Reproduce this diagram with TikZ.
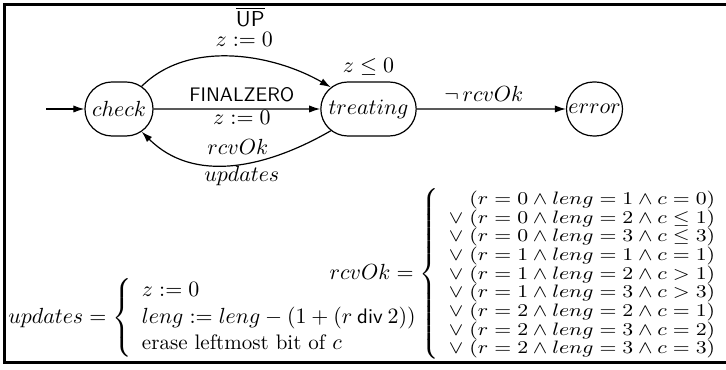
\documentclass[tikz,border=0pt]{standalone}
\usepackage{amsmath}
\usetikzlibrary{arrows.meta,shapes.misc}
\begin{document}
\begin{tikzpicture}[x=0.5pt,y=0.5pt,
  font=\fontsize{10.8}{13}\selectfont,
  state/.style={draw,rounded rectangle,line width=0.6pt,minimum width=34pt,minimum height=27pt,inner xsep=3pt,inner ysep=0pt},
  edge/.style={draw,line width=0.6pt,-{Latex[length=5.5pt,width=3.6pt]}},
  sflab/.style={font=\fontsize{9.8}{11}\selectfont\sffamily},
  lab/.style={anchor=base,inner sep=0pt},
  frame/.style={line width=1.4pt}]
\useasboundingbox (0,0) rectangle (726,369);
\draw[frame] (727,364.8) -- (4.5,364.8) -- (4.5,6.5) -- (727,6.5);
\node[state] (check) at (119,260) {$check$};
\node[state] (treating) at (368.5,260) {$treating$};
\node[state] (error) at (594.5,260) {$error$};
\coordinate (init) at (46,260);
\draw[edge] (init) -- (check);
\draw[edge] (check) to[out=45,in=150,looseness=0.9]
  node[lab,pos=0.5,yshift=5pt,xshift=6pt] (lz1) {$z := 0$}
  node[lab,pos=0.5,yshift=15pt,xshift=9pt] (lup) {$\overline{\text{\sffamily UP}}$} (treating);
\draw[edge] (check) -- node[lab,pos=0.53,sflab,yshift=3.5pt] (lfz) {FINALZERO}
  node[lab,pos=0.53,yshift=-8pt] (lz) {$z := 0$} (treating);
\draw[edge] (treating) to[out=-150,in=-45,looseness=1.0]
  node[lab,pos=0.5,yshift=5pt,xshift=3pt] (lrcv) {$rcvOk$}
  node[lab,pos=0.5,yshift=-8.5pt,xshift=5pt] (lupd) {$updates$} (check);
\draw[edge] (treating) -- node[lab,pos=0.45,yshift=3.5pt] (lneg) {$\neg\, rcvOk$} (error);
\node[lab] (inv) at ([yshift=4.5pt]treating.north) {$z \leq 0$};
\node[anchor=east,inner sep=0pt] (rcveq) at (718,95)
  {$rcvOk = \left\{\mkern8mu\scalebox{1.175}[1]{\fontsize{8.6}{8.6}\selectfont$\begin{array}{@{}r@{}}
  (r = 0 \wedge leng = 1 \wedge c = 0)\\
  \vee\; (r = 0 \wedge leng = 2 \wedge c \leq 1)\\
  \vee\; (r = 0 \wedge leng = 3 \wedge c \leq 3)\\
  \vee\; (r = 1 \wedge leng = 1 \wedge c = 1)\\
  \vee\; (r = 1 \wedge leng = 2 \wedge c > 1)\\
  \vee\; (r = 1 \wedge leng = 3 \wedge c > 3)\\
  \vee\; (r = 2 \wedge leng = 2 \wedge c = 1)\\
  \vee\; (r = 2 \wedge leng = 3 \wedge c = 2)\\
  \vee\; (r = 2 \wedge leng = 3 \wedge c = 3)
  \end{array}$}\right.$};
\node[anchor=west,inner sep=0pt,font=\fontsize{10.5}{13.25}\selectfont] (updeq) at (8,51)
  {$updates = \left\{\begin{array}{l}
  z := 0\\
  leng := leng - (1 + (r \mathbin{\textsf{div}} 2))\\
  \text{erase leftmost bit of } c
  \end{array}\right.$};
\end{tikzpicture}
\end{document}
